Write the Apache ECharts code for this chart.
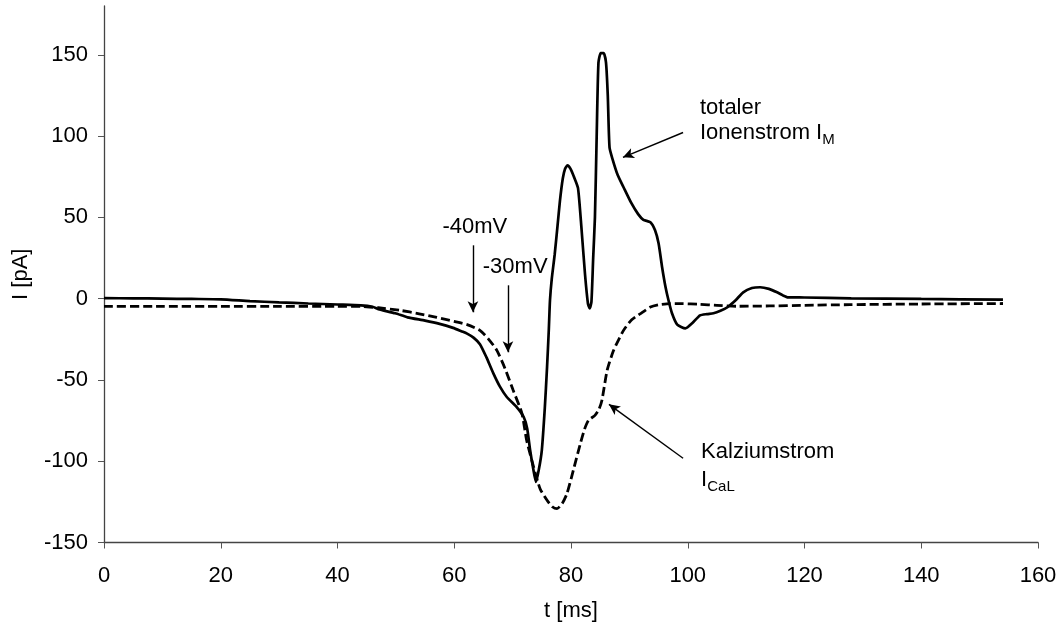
<!DOCTYPE html>
<html>
<head>
<meta charset="utf-8">
<script src="https://cdn.jsdelivr.net/npm/echarts@6/dist/echarts.min.js"></script>
<style>
  html, body { margin: 0; padding: 0; background: #fff; }
  #chart { width: 1062px; height: 627px; }
</style>
</head>
<body>
<div id="chart"></div>
<script>
// ---- Data ----
// total ionic current I_M (solid)
const tM = [0, 5, 10, 15, 20, 25, 30, 35, 40, 44, 46, 47, 49.9, 52, 55, 57.5, 59.8, 61.2, 62.2, 63.3, 64.4, 65.5, 66.7, 67.8, 69, 70.7, 71.9, 72.5, 73, 73.5, 74, 74.5, 75, 75.5, 75.9, 76.2, 76.4, 76.7, 77.2, 77.7, 78.1, 78.6, 79, 79.4, 79.9, 80.5, 81.2, 81.8, 82.4, 82.9, 83.2, 83.5, 83.8, 84.1, 84.4, 84.7, 85.1, 85.6, 86.0, 86.3, 86.6, 87.1, 88, 89, 90.3, 91.5, 92.4, 93.6, 94.4, 95, 95.6, 96.2, 96.7, 97.3, 98.2, 99.6, 100.8, 102.1, 103.3, 104.4, 105.6, 106.8, 108.2, 109.5, 111, 112.4, 113.9, 115.3, 116.3, 117.2, 120, 128, 140, 154];
const iM = [0.3, 0.2, 0, -0.2, -0.4, -1.5, -2.3, -3, -3.6, -4.1, -5, -6.5, -9, -11.5, -13.5, -15.5, -18, -20, -21.5, -24, -28, -36, -46, -54, -60.5, -66.7, -72.8, -80, -93.3, -104, -112.8, -105, -93.3, -68, -42, -19, -1, 12, 27, 45, 60, 74, 80, 82, 80, 75, 68, 43, 15, -3, -6, -2, 25, 50, 100, 145, 151, 151, 145, 125, 93, 86, 76, 68.5, 59, 52, 48.5, 47, 42, 34, 19.5, 7, -1, -9, -16, -18.3, -15, -10.3, -9.5, -9, -7.5, -5.3, -1, 3.9, 6.5, 7, 6, 3.9, 2, 0.8, 0.7, 0.2, -0.2, -0.6];

// calcium current I_CaL (dashed)
const tCa = [0, 10, 20, 30, 40, 44, 47, 50.7, 54, 57, 60, 62.2, 64.4, 65.9, 67.3, 68.7, 70.1, 71.6, 72.4, 73.6, 74.7, 75.9, 76.8, 77.6, 78.5, 79.3, 80.4, 81.6, 82.3, 83, 84.1, 84.8, 85.3, 86.2, 87.3, 89, 90.4, 91.9, 93.6, 95, 97, 99, 102, 105, 108.6, 114, 120, 127.8, 140, 154];
const iCa = [-4.7, -4.7, -4.7, -4.7, -4.7, -4.8, -5.6, -7.2, -9.3, -11.5, -14, -16, -19.5, -25, -31.8, -43, -56.4, -70.7, -87.1, -103.6, -116.9, -124, -128, -129.2, -126, -120, -105.6, -89.2, -80.5, -74.8, -71.8, -68, -62.5, -44, -31.8, -19.5, -13, -9.2, -5.2, -3.8, -3.1, -3.1, -3.5, -4.1, -4.7, -4.5, -4.1, -3.7, -3.3, -3.0];

// axis ticks
const xTicks = [0, 20, 40, 60, 80, 100, 120, 140, 160];
const yTicks = [-150, -100, -50, 0, 50, 100, 150];

// annotation arrows: [tStart, iStart, tTip, iTip]
const arrowV40 = [63.2, 32.8, 63.2, -8.4];
const arrowV30 = [69.2, 8.2, 69.2, -33];
const arrowIM = [99.2, 102.2, 88.9, 86.9];
const arrowICa = [99.2, -98.2, 86.5, -65];

// annotation texts: [t, i, text]
const labels = [
  [57.9, 43.9, '-40mV'],
  [64.8, 19.3, '-30mV'],
  [102.0, 117.6, 'totaler'],
  [102.0, 101.7, 'Ionenstrom I{sub|M}'],
  [102.2, -94.5, 'Kalziumstrom'],
  [102.2, -111.7, 'I{sub|CaL}']
];

// ---- Chart ----
const FONT = 'Liberation Sans, Arial, sans-serif';
const FS = 22;
const zip = (a, b) => a.map((v, k) => [v, b[k]]);
const arrow = a => [
  { coord: [a[0], a[1]], symbol: 'none' },
  { coord: [a[2], a[3]], symbol: 'arrow' }
];

const chart = echarts.init(document.getElementById('chart'), null, { renderer: 'canvas' });
chart.setOption({
  animation: false,
  backgroundColor: '#ffffff',
  textStyle: { fontFamily: FONT },
  grid: { left: 104, right: 24, top: 6, bottom: 84.5, containLabel: false, outerBoundsMode: 'none' },
  xAxis: {
    type: 'value', min: 0, max: 160, interval: 20,
    name: 't [ms]', nameLocation: 'middle', nameGap: 57,
    nameTextStyle: { fontSize: FS, color: '#000', fontFamily: FONT },
    axisLine: { show: true, onZero: false, lineStyle: { color: '#444', width: 1.3 } },
    axisTick: { show: true, length: 6, lineStyle: { color: '#555', width: 1 }, customValues: xTicks },
    axisLabel: { fontSize: FS, color: '#000', margin: 22, fontFamily: FONT, customValues: xTicks },
    splitLine: { show: false }
  },
  yAxis: {
    type: 'value', min: -150, max: 180,
    name: 'I [pA]', nameLocation: 'middle', nameGap: 72, nameRotate: 90,
    nameTextStyle: { fontSize: FS, color: '#000', fontFamily: FONT },
    axisLine: { show: true, onZero: false, lineStyle: { color: '#444', width: 1.3 } },
    axisTick: { show: true, length: 6, lineStyle: { color: '#555', width: 1 }, customValues: yTicks },
    axisLabel: { fontSize: FS, color: '#000', margin: 16, fontFamily: FONT, customValues: yTicks },
    splitLine: { show: false }
  },
  series: [
    {
      name: 'I_CaL', type: 'line', data: zip(tCa, iCa),
      showSymbol: false, symbol: 'none', smooth: 0.2,
      lineStyle: { color: '#000', width: 2.8, type: [9, 4] },
      z: 2
    },
    {
      name: 'I_M', type: 'line', data: zip(tM, iM),
      showSymbol: false, symbol: 'none', smooth: 0.2,
      lineStyle: { color: '#000', width: 2.7 },
      z: 3,
      markLine: {
        silent: true, animation: false,
        symbolSize: [8, 11],
        label: { show: false },
        lineStyle: { color: '#000', width: 1.4, type: 'solid' },
        emphasis: { disabled: true },
        data: [arrow(arrowV40), arrow(arrowV30), arrow(arrowIM), arrow(arrowICa)]
      },
      markPoint: {
        silent: true, animation: false,
        symbol: 'rect', symbolSize: 1,
        itemStyle: { color: 'rgba(0,0,0,0)' },
        label: {
          show: true, position: 'right', distance: 0,
          color: '#000', fontSize: FS, fontFamily: FONT,
          formatter: p => p.name,
          rich: {
            sub: { fontSize: 15, fontFamily: FONT, color: '#000', verticalAlign: 'bottom', padding: [0, 0, -3, 0] }
          }
        },
        data: labels.map(l => ({ coord: [l[0], l[1]], name: l[2] }))
      }
    }
  ]
});
</script>
</body>
</html>
